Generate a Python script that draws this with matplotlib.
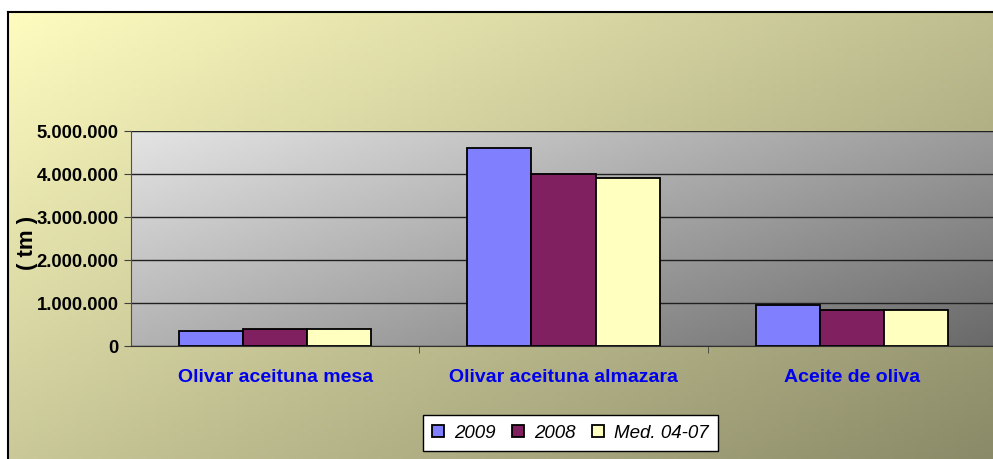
import matplotlib
matplotlib.use("Agg")
import matplotlib.pyplot as plt
import numpy as np
from matplotlib.ticker import FuncFormatter

categories = ["Olivar aceituna mesa", "Olivar aceituna almazara", "Aceite de oliva"]
series_names = ["2009", "2008", "Med. 04-07"]
v2009 = [360000, 4600000, 950000]
v2008 = [395000, 4010000, 840000]
vmed = [395000, 3910000, 840000]
colors = ["#8080FF", "#802060", "#FFFFC0"]

W, H = 993, 460
fig = plt.figure(figsize=(W / 100, H / 100), dpi=100)
fig.patch.set_facecolor("white")

# chart-area background, diagonal gradient pale yellow -> olive
bg = fig.add_axes([8 / W, 0, 1 - 8 / W, 1 - 13 / H])
gx, gy = np.meshgrid(np.linspace(0, 1, 200), np.linspace(0, 1, 100))
t = np.clip(0.55 * gx + 0.45 * gy, 0, 1)[..., None]
c0 = np.array([255, 252, 192]) / 255
c1 = np.array([138, 138, 104]) / 255
bg.imshow(c0 + (c1 - c0) * t, aspect="auto", extent=[0, 1, 0, 1], origin="upper")
bg.set_xlim(0, 1)
bg.set_ylim(0, 1)
bg.set_xticks([])
bg.set_yticks([])
for s in ["right", "bottom"]:
    bg.spines[s].set_visible(False)
bg.spines["left"].set_linewidth(1.5)
bg.spines["top"].set_linewidth(1.5)

ax = fig.add_axes([131 / W, 1 - 347 / H, (996 - 131) / W, (347 - 132) / H])
# plot-area gray gradient
px, py = np.meshgrid(np.linspace(0, 1, 200), np.linspace(0, 1, 100))
tp = np.clip(0.6 * px + 0.4 * py, 0, 1)[..., None]
p0 = np.array([228, 228, 228]) / 255
p1 = np.array([105, 105, 105]) / 255
ax.imshow(p0 + (p1 - p0) * tp, aspect="auto", extent=[0, 3, 0, 5000000],
          origin="upper", zorder=0)

x = np.arange(len(categories)) + 0.5
w = 0.222
for i, (vals, name) in enumerate(zip([v2009, v2008, vmed], series_names)):
    ax.bar(x + (i - 1) * w, vals, w, color=colors[i], edgecolor="black",
           linewidth=1.3, label=name, zorder=3)

ax.set_xlim(0, 3)
ax.set_ylim(0, 5000000)
ax.set_yticks(np.arange(0, 5000001, 1000000))
ax.yaxis.set_major_formatter(FuncFormatter(lambda v, p: f"{int(v):,}".replace(",", ".")))
ax.grid(axis="y", color="#202020", linewidth=1, zorder=1)
ax.set_axisbelow(True)
ax.set_xticks(x)
ax.set_xticklabels(categories)
ax.set_xticks([1, 2], minor=True)
ax.tick_params(axis="x", which="major", length=0, pad=16)
ax.tick_params(axis="x", which="minor", length=5, color="#404040")
ax.tick_params(axis="y", length=5, color="#404040", pad=4)
for lab in ax.get_xticklabels():
    lab.set_family("Liberation Sans")
    lab.set_fontweight("bold")
    lab.set_fontsize(14)
    lab.set_color("#0000EE")
for lab in ax.get_yticklabels():
    lab.set_family("Liberation Sans")
    lab.set_fontweight("bold")
    lab.set_fontsize(13.3)
for s in ["top", "right"]:
    ax.spines[s].set_visible(False)
ax.spines["left"].set_color("#505050")
ax.spines["bottom"].set_color("#303030")

fig.text(28 / W, 1 - 243 / H, "( tm )", rotation=90, ha="center", va="center",
         family="Liberation Sans", fontweight="bold", fontsize=16)

leg = fig.legend(loc="upper left", bbox_to_anchor=(423 / W, 1 - 416 / H), ncol=3,
                 frameon=True, fancybox=False, edgecolor="black",
                 prop={"family": "Liberation Sans", "style": "italic", "size": 13.5},
                 handlelength=0.6, handleheight=0.6, handletextpad=0.55,
                 columnspacing=0.9, borderpad=0.5, borderaxespad=0)
leg.get_frame().set_linewidth(1)
leg.get_frame().set_facecolor("white")
leg.get_frame().set_alpha(1)

fig.savefig("out.png", dpi=100)
